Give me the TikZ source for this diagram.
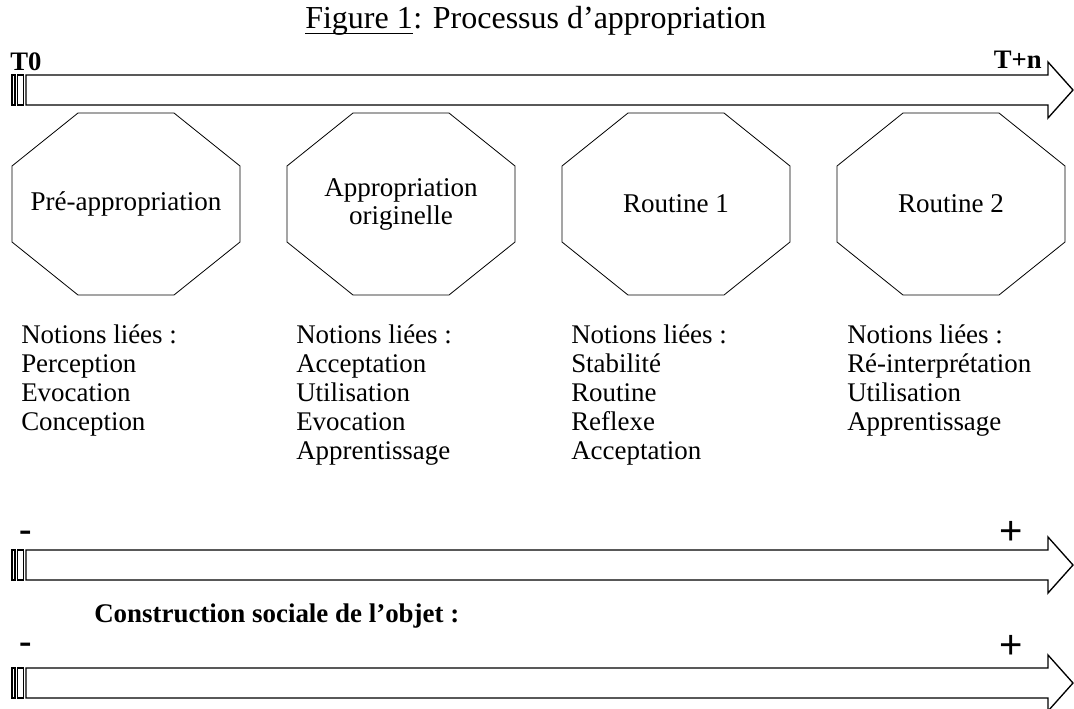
\documentclass[tikz,border=0pt]{standalone}
\usepackage{fontspec}
\setmainfont{Liberation Serif}
\setsansfont{Liberation Sans}
\usetikzlibrary{positioning}

\begin{document}
\begin{tikzpicture}[x=0.75pt,y=-0.75pt,
    fleche/.style={draw=black,line width=1pt,fill=white},
    bande/.style={draw=black,line width=0.8pt},
    etape/.style={rectangle,minimum width=171pt,minimum height=136.5pt,
		inner sep=0pt,outer sep=0pt,align=center,
		font=\fontsize{20.3}{21}\selectfont},
    contour/.style={draw=black,line width=0.6pt},
    notion/.style={anchor=north west,align=left,inner sep=0pt,
		font=\fontsize{20.2}{21.75}\selectfont},
    titre/.style={inner sep=0pt,anchor=base west,font=\fontsize{24}{26}\selectfont},
% Labels on the axes
    borne/.style={inner sep=0pt,font=\bfseries\fontsize{20}{22}\selectfont},
    moins/.style={inner sep=0pt,font=\bfseries\fontsize{28}{30}\selectfont},
    plus/.style={inner sep=0pt,font=\sffamily\fontsize{30}{32}\selectfont},
    node distance=206.25pt,on grid
    ]
   \useasboundingbox (0,0) rectangle (1074,708);

%%% Title
   \node [titre] (fig) at (305,28) {Figure 1};
   \node [titre] (proc) at (fig.base east) {: Processus d’appropriation};
   \draw [line width=1.1pt] ([yshift=-4pt]fig.base west) -- ([yshift=-4pt]fig.base east);

%%% Time axis
   \draw [fleche] (26,75) -- (1048,75) -- (1048,62) -- (1073,90) -- (1048,118)
	-- (1048,105) -- (26,105) -- cycle;
   \draw [bande] (12,75) rectangle (15,105);
   \draw [bande] (17.5,75) rectangle (23.5,105);
   \node [borne,anchor=base west] (t0) at (10,70) {T0};
   \node [borne,anchor=base east] (tn) at (1042,68) {T+n};

%%% Stages
   \node [etape] (pre) at (126,204) {Pré-appropriation};
   \node [etape,right=of pre] (orig) {Appropriation\\originelle};
   \node [etape,right=of orig] (rout1) {Routine 1};
   \node [etape,right=of rout1] (rout2) {Routine 2};
   \foreach \etape in {pre,orig,rout1,rout2}
     \draw [contour] ([xshift=49.5pt]\etape.north west) -- ([xshift=-49.5pt]\etape.north east)
	-- ([yshift=-39.75pt]\etape.north east) -- ([yshift=39.75pt]\etape.south east)
	-- ([xshift=-49.5pt]\etape.south east) -- ([xshift=49.5pt]\etape.south west)
	-- ([yshift=39.75pt]\etape.south west) -- ([yshift=-39.75pt]\etape.north west) -- cycle;

   \node [notion] (npre) at (21,324)
	{Notions liées :\\Perception\\Evocation\\Conception};
   \node [notion] (norig) at (296,324)
	{Notions liées :\\Acceptation\\Utilisation\\Evocation\\Apprentissage};
   \node [notion] (nrout1) at (571,324)
	{Notions liées :\\Stabilité\\Routine\\Reflexe\\Acceptation};
   \node [notion] (nrout2) at (847,324)
	{Notions liées :\\Ré-interprétation\\Utilisation\\Apprentissage};

%%% Second axis
   \draw [fleche] (26,550) -- (1048,550) -- (1048,537) -- (1073,565) -- (1048,593)
	-- (1048,580) -- (26,580) -- cycle;
   \draw [bande] (12,550) rectangle (15,580);
   \draw [bande] (17.5,550) rectangle (23.5,580);
   \node [moins] (moins1) at (26,536) {-};
   \node [plus] (plus1) at (1011,533) {+};

%%% Social construction axis
   \node [anchor=base west,inner sep=0pt,font=\bfseries\fontsize{20.2}{22}\selectfont]
	(construction) at (94,622) {Construction sociale de l’objet :};
   \draw [fleche] (26,668) -- (1048,668) -- (1048,655) -- (1073,683) -- (1048,711)
	-- (1048,698) -- (26,698) -- cycle;
   \draw [bande] (12,668) rectangle (15,698);
   \draw [bande] (17.5,668) rectangle (23.5,698);
   \node [moins] (moins2) at (26,648) {-};
   \node [plus] (plus2) at (1011,647) {+};
\end{tikzpicture}
\end{document}
